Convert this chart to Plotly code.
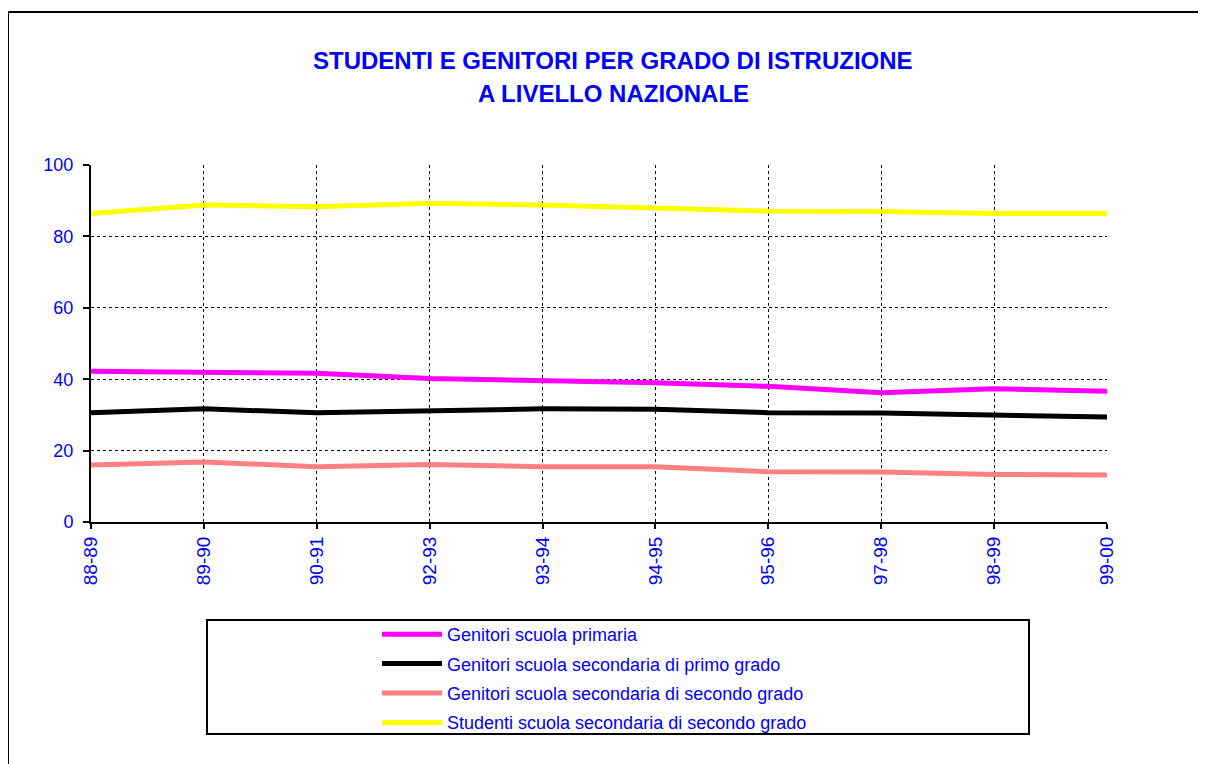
import plotly.graph_objects as go

anni = ["88-89", "89-90", "90-91", "92-93", "93-94", "94-95", "95-96", "97-98", "98-99", "99-00"]
genitori_primaria = [42.2, 42.1, 41.7, 40.2, 39.6, 39.0, 38.0, 36.2, 37.3, 36.6]
genitori_sec_primo = [30.6, 31.7, 30.6, 31.2, 31.7, 31.6, 30.6, 30.5, 30.0, 29.4]
genitori_sec_secondo = [16.0, 16.8, 15.5, 16.1, 15.5, 15.5, 14.1, 14.0, 13.3, 13.2]
studenti_sec_secondo = [86.4, 88.8, 88.3, 89.3, 88.8, 87.8, 87.1, 87.0, 86.4, 86.4]

series = [
    ("Genitori scuola primaria", genitori_primaria, "#FF00FF"),
    ("Genitori scuola secondaria di primo grado", genitori_sec_primo, "#000000"),
    ("Genitori scuola secondaria di secondo grado", genitori_sec_secondo, "#FF8080"),
    ("Studenti scuola secondaria di secondo grado", studenti_sec_secondo, "#FFFF00"),
]

# page body has an 8px margin; work in screen coordinates and subtract it
OFF = 8
W, H = 1206, 764
L, R, T, B = 91 - OFF, 1107 - OFF, 165 - OFF, 522 - OFF
pw, ph = R - L, B - T

def px(x):
    return (x - OFF - L) / pw

def py(y):
    return (B - (y - OFF)) / ph

fig = go.Figure()
for i, (name, vals, col) in enumerate(series):
    fig.add_trace(go.Scatter(
        x=anni, y=vals, name=name, mode="lines",
        line=dict(color=col, width=5), legendgroup=f"g{i}",
    ))

FONT = "Liberation Sans, Arial, sans-serif"
BLUE = "#0000FF"

fig.update_layout(
    width=W, height=H,
    margin=dict(l=L, r=W - R, t=T, b=H - B, pad=0),
    paper_bgcolor="white", plot_bgcolor="white",
    font=dict(family=FONT, size=18, color=BLUE),
    showlegend=True,
    legend=dict(
        x=px(377), y=py(616), xanchor="left", yanchor="top",
        bgcolor="rgba(0,0,0,0)", borderwidth=0,
        font=dict(family=FONT, size=18, color=BLUE),
        tracegroupgap=3, itemwidth=60,
    ),
    xaxis=dict(
        type="category", range=[0, 9],
        showgrid=True, gridcolor="black", griddash="dot", gridwidth=1,
        showline=True, linecolor="black", linewidth=2,
        ticks="outside", ticklen=5, tickcolor="black", tickwidth=2,
        tickangle=-90, tickfont=dict(family=FONT, size=19, color=BLUE),
        zeroline=False, fixedrange=True,
    ),
    yaxis=dict(
        range=[0, 100], tickvals=[0, 20, 40, 60, 80, 100],
        showgrid=True, gridcolor="black", griddash="dot", gridwidth=1,
        showline=True, linecolor="black", linewidth=2,
        ticks="outside", ticklen=6, tickcolor="black", tickwidth=2,
        ticklabelstandoff=6,
        tickfont=dict(family=FONT, size=18, color=BLUE),
        zeroline=False, fixedrange=True,
    ),
    shapes=[
        dict(type="rect", xref="paper", yref="paper",
             x0=px(8), x1=px(1215), y0=py(775), y1=py(12),
             line=dict(color="black", width=2), fillcolor="rgba(0,0,0,0)", layer="below"),
        dict(type="rect", xref="paper", yref="paper",
             x0=px(207), x1=px(1029), y0=py(734), y1=py(620),
             line=dict(color="black", width=2), fillcolor="rgba(0,0,0,0)"),
    ],
    annotations=[
        dict(text="<b>STUDENTI E GENITORI PER GRADO DI ISTRUZIONE</b>", xref="paper", yref="paper",
             x=px(613), y=py(61), xanchor="center", yanchor="middle", showarrow=False,
             font=dict(family=FONT, size=24, color=BLUE)),
        dict(text="<b>A LIVELLO NAZIONALE</b>", xref="paper", yref="paper",
             x=px(613), y=py(93), xanchor="center", yanchor="middle", showarrow=False,
             font=dict(family=FONT, size=24, color=BLUE)),
    ],
)

fig.write_html("out.html")
